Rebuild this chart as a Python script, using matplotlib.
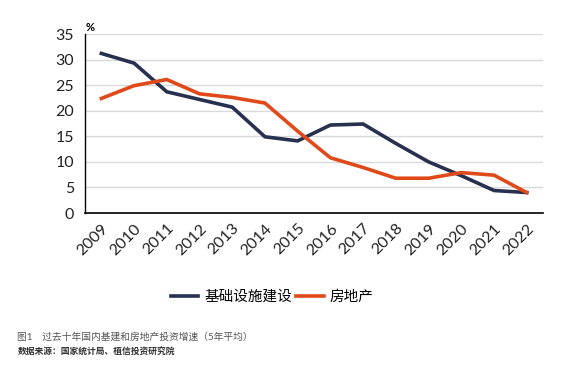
import matplotlib
matplotlib.use("Agg")
import matplotlib.pyplot as plt

plt.rcParams['font.family'] = ['Lato', 'Noto Sans CJK SC', 'DejaVu Sans']

years = ["2009", "2010", "2011", "2012", "2013", "2014", "2015",
         "2016", "2017", "2018", "2019", "2020", "2021", "2022"]
infra = [31.2, 29.3, 23.7, 22.2, 20.7, 14.9, 14.1,
         17.2, 17.4, 13.6, 10.0, 7.3, 4.4, 4.0]
estate = [22.4, 24.9, 26.1, 23.3, 22.6, 21.5, 16.0,
          10.8, 8.9, 6.8, 6.8, 7.9, 7.4, 4.0]

C_INFRA = "#28304f"
C_ESTATE = "#e04a1a"

fig = plt.figure(figsize=(5.79, 3.72), dpi=100)
ax = fig.add_axes([0.1468, 0.4274, 0.7912, 0.4812])

x = list(range(len(years)))
ax.plot(x, infra, color=C_INFRA, lw=2.6, label="基础设施建设", solid_joinstyle="miter")
ax.plot(x, estate, color=C_ESTATE, lw=2.6, label="房地产", solid_joinstyle="miter")

ax.set_xlim(-0.5, len(years) - 0.5)
ax.set_ylim(0, 35)
ax.set_yticks(range(0, 36, 5))
ax.set_xticks(x)
ax.set_xticklabels(years, rotation=45, ha="right", va="top",
                   rotation_mode="anchor", fontsize=11.5, color="#222222")
ax.tick_params(axis="y", labelsize=11.5, labelcolor="#222222", length=0, pad=8)
ax.tick_params(axis="x", length=0, pad=6)
ax.grid(axis="y", color="#d9d9d9", lw=1)
ax.set_axisbelow(True)
for s in ("top", "right"):
    ax.spines[s].set_visible(False)
ax.spines["left"].set_color("black")
ax.spines["bottom"].set_color("black")
ax.spines["left"].set_linewidth(1.0)
ax.spines["bottom"].set_linewidth(1.2)

fig.text(0.148, 0.91, "%", fontsize=8, fontweight="bold", ha="left", va="bottom")

fig.legend(loc="center", bbox_to_anchor=(0.47, 0.202), ncol=2, frameon=False,
           fontsize=10.5, handlelength=1.9, handletextpad=0.4, columnspacing=0.3)

fig.text(0.03, 0.094, "图1　过去十年国内基建和房地产投资增速（5年平均）",
         fontsize=7, color="#555555", ha="left", va="center")
fig.text(0.03, 0.053, "数据来源：国家统计局、植信投资研究院",
         fontsize=6.3, color="#333333", fontweight="bold", ha="left", va="center")

fig.savefig("out.png", dpi=100)
